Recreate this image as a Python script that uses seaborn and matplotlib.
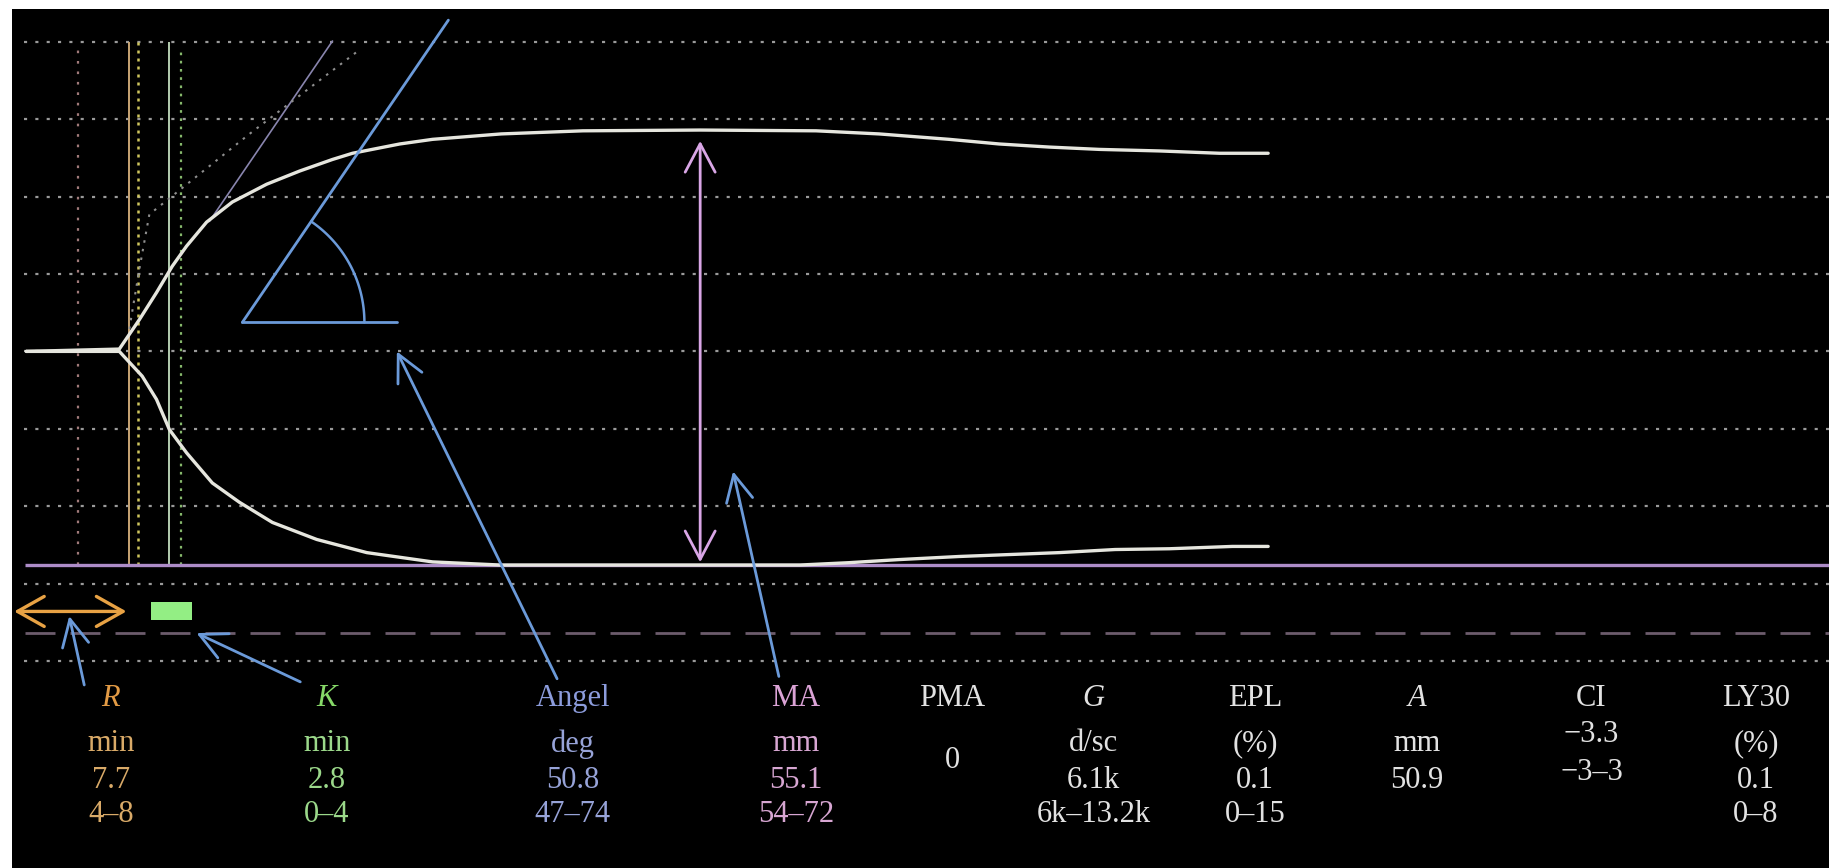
import numpy as np
import pandas as pd
import matplotlib
matplotlib.use('Agg')
import matplotlib.pyplot as plt
import seaborn as sns

# TEG tracing: time in min, amplitude in mm
upper_t = [0.5, 7.0, 8.4, 9.6, 10.7, 11.7, 13.1, 14.9, 17.3, 19.6, 21.9, 23.3, 26.6, 28.9,
           33.7, 39.4, 47.6, 55.7, 60.1, 65.0, 68.5, 72.0, 75.5, 79.7, 83.9, 87.3]
upper_mm = [0, 0.3, 4.1, 7.6, 11.0, 13.6, 16.7, 19.3, 21.6, 23.3, 24.8, 25.6, 26.8, 27.4,
            28.1, 28.5, 28.6, 28.5, 28.1, 27.4, 26.8, 26.4, 26.1, 25.9, 25.6, 25.6]
lower_t = [0.5, 7.0, 8.6, 9.6, 10.5, 11.7, 13.5, 15.4, 17.7, 20.8, 24.3, 28.9, 33.6,
           54.6, 58.0, 61.5, 65.7, 68.5, 72.7, 76.6, 80.4, 84.8, 87.3]
lower_mm = [0, 0, -3.2, -6.2, -10.1, -13.1, -17.0, -19.5, -22.1, -24.3, -26.0, -27.2, -27.6,
            -27.6, -27.3, -26.9, -26.5, -26.3, -26.0, -25.6, -25.5, -25.2, -25.2]

# reference lines
grid_mm = [40, 30, 20, 10, 0, -10, -20, -30, -40]
r_time = 7.7
rk_time = 10.5
marker_times = [4.1, 8.3, 11.3]
ma_bottom = -27.55
ma_top = 27.2
ma_time = 47.6

# tangent lines near the angle
tangent_t = [13.3, 21.9]
tangent_mm = [16.8, 40.1]
slope_t = [7.7, 8.4, 9.1, 16.1, 23.6]
slope_mm = [2.9, 10.6, 17.7, 28.1, 38.7]

# angle sketch
angle_origin = (15.6, 3.75)
angle_base_end = 26.4
angle_arm_end = (30.0, 42.8)

# result table
params = ['R', 'K', 'Angel', 'MA', 'PMA', 'G', 'EPL', 'A', 'CI', 'LY30']
units = ['min', 'min', 'deg', 'mm', '', 'd/sc', '(%)', 'mm', '', '(%)']
values = ['7.7', '2.8', '50.8', '55.1', '', '6.1k', '0.1', '50.9', '', '0.1']
ranges = ['4–8', '0–4', '47–74', '54–72', '', '6k–13.2k', '0–15', '', '', '0–8']
pma_value = '0'
ci_lines = ['−3.3', '−3–3']

# layout
col_x = [6.4, 21.5, 38.7, 54.3, 65.2, 75.1, 86.4, 97.7, 109.9, 121.4]
row_y = [-44.8, -50.7, -55.4, -59.8]
italic = {'R', 'K', 'G', 'A'}
label_colors = ['#e39b45', '#86d868', '#8c9cdc', '#dba3d6'] + ['#e2e2e2'] * 6
text_colors = ['#d9aa68', '#9bd88a', '#97a3d8', '#d7a6d2'] + ['#e2e2e2'] * 6
px_min, px_mm = 14.3, 7.73

sns.set_theme(style='white')
plt.rcParams['font.family'] = ['Liberation Serif', 'DejaVu Serif']

fig = plt.figure(figsize=(18.29, 8.68), dpi=100)
fig.patch.set_facecolor('white')
ax = fig.add_axes([12 / 1829, 0, 1817 / 1829, 859 / 868])
ax.set_facecolor('black')
ax.set_xlim(-0.5, 126.5)
ax.set_ylim(-66.75, 44.24)
ax.set_xticks([])
ax.set_yticks([])
for s in ax.spines.values():
    s.set_visible(False)

# dotted grid
ax.hlines(grid_mm, 0.35, 126.5, colors='#9a9a9a', lw=1.6, linestyles=[(0, (1.4, 3.7))])

# vertical markers
ax.vlines(marker_times[0], ma_bottom, 39, colors='#a07a7a', lw=1.6, linestyles=[(0, (1.2, 3.5))])
ax.vlines(r_time, ma_bottom, 40, colors='#c9a574', lw=1.4)
ax.vlines(marker_times[1], ma_bottom, 40, colors='#cfc65e', lw=1.8, linestyles=[(0, (1.2, 2.0))])
ax.vlines(rk_time, ma_bottom, 40, colors='#b4cdb0', lw=1.4)
ax.vlines(marker_times[2], ma_bottom, 39, colors='#86b86c', lw=1.6, linestyles=[(0, (1.2, 2.5))])

# tangent lines
ax.plot(tangent_t, tangent_mm, color='#8985ae', lw=1.2)
ax.plot(slope_t, slope_mm, color='#8e8e8e', lw=1.5, ls=(0, (1.2, 3)))

# baselines
ax.hlines(ma_bottom, 0.4, 126.5, colors='#ad8cc8', lw=2.4)
ax.hlines(-36.35, 0.4, 126.5, colors='#6c5c6c', lw=2.0, linestyles=[(0, (10.8, 5.4))])

# tracing
trace = pd.concat([
    pd.DataFrame({'time': upper_t, 'amp': upper_mm, 'side': 'upper'}),
    pd.DataFrame({'time': lower_t, 'amp': lower_mm, 'side': 'lower'}),
])
sns.lineplot(data=trace, x='time', y='amp', units='side', estimator=None, sort=False,
             color='#e6e6de', lw=2.4, ax=ax, legend=False)
ax.set_xlabel('')
ax.set_ylabel('')

# MA double arrow
ax.annotate('', xy=(ma_time, ma_top), xytext=(ma_time, ma_bottom + 0.3),
            arrowprops=dict(arrowstyle='<->,head_length=1.7,head_width=0.9',
                            color='#d9a6e6', lw=2.0, shrinkA=0, shrinkB=0))

# R span arrow and K box
ax.annotate('', xy=(-0.35, -33.6), xytext=(7.5, -33.6),
            arrowprops=dict(arrowstyle='<->,head_length=1.6,head_width=0.9',
                            color='#e8a244', lw=2.4, shrinkA=0, shrinkB=0))
ax.add_patch(plt.Rectangle((9.25, -34.7), 2.85, 2.35, color='#93ee84', lw=0))

# angle sketch
blue = '#6b9ad9'
ox, oy = angle_origin
ax.plot([ox, angle_base_end], [oy, oy], color=blue, lw=2.0)
ax.plot([ox, angle_arm_end[0]], [oy, angle_arm_end[1]], color=blue, lw=2.0)
ang = np.arctan2((angle_arm_end[1] - oy) * px_mm, (angle_arm_end[0] - ox) * px_min)
a = np.linspace(0, ang, 60)
ax.plot(ox + 122 * np.cos(a) / px_min, oy + 122 * np.sin(a) / px_mm, color=blue, lw=1.8)

# pointer arrows from the table
pointers = [((4.55, -43.1), (3.5, -34.2)),
            ((19.65, -42.7), (12.4, -36.4)),
            ((37.6, -42.3), (26.4, 0.0)),
            ((53.1, -42.0), (49.9, -15.5))]
for tail, tip in pointers:
    ax.annotate('', xy=tip, xytext=tail,
                arrowprops=dict(arrowstyle='->,head_length=1.6,head_width=0.8',
                                color=blue, lw=2.0, shrinkA=0, shrinkB=0))

# table text
fs = 22
for i, p in enumerate(params):
    ax.text(col_x[i], row_y[0], p, color=label_colors[i], fontsize=fs, ha='center', va='center',
            style='italic' if p in italic else 'normal')
    for r, txt in zip(row_y[1:], [units[i], values[i], ranges[i]]):
        if txt:
            ax.text(col_x[i], r, txt, color=text_colors[i], fontsize=fs, ha='center', va='center')
ax.text(col_x[4], -52.9, pma_value, color='#e2e2e2', fontsize=fs, ha='center', va='center')
ax.text(col_x[8], -49.5, ci_lines[0], color='#e2e2e2', fontsize=fs, ha='center', va='center')
ax.text(col_x[8], -54.4, ci_lines[1], color='#e2e2e2', fontsize=fs, ha='center', va='center')

fig.savefig('out.png', dpi=100, facecolor='white')
